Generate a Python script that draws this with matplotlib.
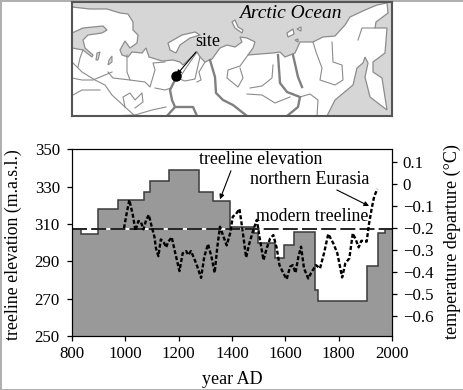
'''
    Treeline elevation against northern Eurasia temperature departure,
    with a small locator map above.  Values read off the picture by eye.
'''

import matplotlib
matplotlib.use('Agg')
import matplotlib.pyplot as plt
from matplotlib.patches import Polygon

plt.rcParams['font.family'] = ['Liberation Serif', 'DejaVu Serif']

# Treeline steps: edges in years, one elevation per interval
step_edges = [800, 835, 897, 972, 1070, 1092, 1162, 1275, 1328, 1392, 1482,
              1496, 1561, 1596, 1632, 1711, 1722, 1907, 1946, 1974, 2000]
step_elev = [307.5, 304.5, 318, 323, 327, 333, 339, 327.4, 322.4, 308.6, 305,
             300, 292, 299, 305.8, 274.7, 269, 287.7, 305, 307.5]

modern_treeline = 307.5

temp_years = [995, 1005, 1015, 1028, 1038, 1049, 1058, 1068, 1078, 1088, 1099,
              1109, 1115, 1124, 1133, 1143, 1153, 1161, 1174, 1186, 1203, 1215,
              1228, 1236, 1246, 1258, 1270, 1284, 1296, 1310, 1323, 1335, 1345,
              1355, 1368, 1380, 1393, 1403, 1415, 1428, 1438, 1453, 1465, 1480,
              1493, 1503, 1518, 1530, 1543, 1555, 1568, 1578, 1593, 1605, 1618,
              1628, 1638, 1649, 1659, 1670, 1686, 1699, 1715, 1730, 1745, 1761,
              1780, 1795, 1813, 1825, 1840, 1853, 1865, 1875, 1885, 1905, 1914,
              1924, 1933, 1945]
temp_dep = [-0.202, -0.134, -0.073, -0.141, -0.213, -0.169, -0.172, -0.207,
            -0.164, -0.141, -0.195, -0.240, -0.294, -0.329, -0.253, -0.263,
            -0.289, -0.263, -0.243, -0.309, -0.397, -0.316, -0.306, -0.324,
            -0.306, -0.339, -0.377, -0.428, -0.332, -0.274, -0.332, -0.405,
            -0.286, -0.195, -0.240, -0.280, -0.225, -0.149, -0.137, -0.114,
            -0.198, -0.335, -0.271, -0.210, -0.164, -0.240, -0.347, -0.294,
            -0.248, -0.233, -0.294, -0.370, -0.408, -0.434, -0.377, -0.370,
            -0.405, -0.332, -0.286, -0.385, -0.431, -0.400, -0.370, -0.385,
            -0.316, -0.228, -0.271, -0.316, -0.426, -0.362, -0.339, -0.225,
            -0.256, -0.289, -0.259, -0.263, -0.180, -0.111, -0.058, -0.023]

year_ticks = [800, 1000, 1200, 1400, 1600, 1800, 2000]
elev_ticks = [250, 270, 290, 310, 330, 350]
temp_ticks = [0.1, 0, -0.1, -0.2, -0.3, -0.4, -0.5, -0.6]
temp_labels = ['0.1', '0', '\u22120.1', '\u22120.2', '\u22120.3', '\u22120.4',
               '\u22120.5', '\u22120.6']

# Map outlines, in picture pixels
land = [(72, 116), (72, 7), (90, 9), (107, 9), (120, 13), (128, 14), (133, 22),
        (133, 30), (138, 35), (137, 43), (130, 48), (125, 41), (120, 50),
        (122, 55), (128, 57), (132, 52), (142, 53), (146, 48), (149, 57),
        (162, 61), (173, 60), (180, 62), (183, 65), (197, 52), (200, 57),
        (205, 62), (212, 59), (220, 48), (227, 45), (235, 47), (242, 42),
        (240, 37), (247, 38), (255, 42), (253, 48), (248, 55), (260, 54),
        (273, 53), (280, 52), (285, 57), (295, 53), (300, 42), (313, 42),
        (323, 37), (335, 36), (345, 25), (350, 17), (365, 10), (377, 5),
        (387, 3), (388, 13), (376, 22), (375, 28), (387, 28), (385, 53),
        (373, 62), (373, 72), (382, 78), (387, 110), (370, 97), (365, 77),
        (368, 63), (365, 57), (363, 63), (357, 68), (353, 85), (335, 100),
        (327, 116)]
baltic = [(72, 33), (83, 28), (103, 26), (107, 30), (102, 33), (88, 35),
          (83, 40), (85, 48), (93, 55), (92, 57), (83, 50), (72, 48)]
novaya = [(168, 43), (182, 35), (195, 32), (200, 35), (190, 38), (180, 45),
          (176, 53), (170, 50)]
islands = [[(232, 22), (235, 20), (238, 27), (243, 30), (242, 33), (235, 28)],
           [(287, 33), (293, 29), (294, 34), (288, 37)],
           [(297, 29), (301, 27), (301, 31)],
           [(295, 40), (298, 39), (298, 42)]]
lakes = [[(97, 53), (100, 52), (98, 60), (96, 60)],
         [(109, 60), (112, 56), (112, 62), (108, 65)]]
big_rivers = [[(175, 80), (170, 90), (172, 100), (175, 107), (167, 116)],
              [(175, 107), (193, 107), (197, 116)],
              [(210, 60), (215, 77), (216, 93), (223, 100), (233, 105), (247, 116)],
              [(278, 55), (280, 83), (287, 92), (300, 97), (298, 107), (287, 116)],
              [(293, 55), (298, 77), (302, 87)]]
thin_rivers = [[(197, 52), (186, 68), (178, 80)],
               [(200, 57), (197, 70), (195, 79), (185, 81), (177, 78)],
               [(205, 62), (199, 72), (201, 80), (197, 82)],
               [(248, 55), (240, 66), (228, 70), (227, 78), (238, 87), (243, 78), (240, 68)],
               [(250, 88), (262, 86), (272, 78), (273, 65)],
               [(247, 94), (262, 95), (275, 103), (290, 97)],
               [(300, 97), (310, 94), (318, 100), (317, 116)],
               [(313, 42), (316, 52), (322, 68), (320, 80), (335, 85), (343, 80), (342, 65), (333, 62), (332, 42)],
               [(358, 40), (362, 28), (375, 28)],
               [(72, 62), (82, 72), (95, 80), (105, 85), (112, 95), (125, 107), (135, 116)],
               [(72, 78), (82, 80), (93, 80), (105, 75), (112, 72)],
               [(73, 95), (82, 90), (100, 90)],
               [(127, 55), (127, 72), (130, 80), (113, 78), (108, 72)],
               [(130, 80), (145, 82), (150, 87), (155, 70), (153, 63), (165, 62)],
               [(125, 107), (123, 97), (130, 93), (135, 100), (142, 93), (143, 102), (135, 108)],
               [(155, 88), (165, 90), (171, 88)],
               [(110, 116), (135, 115), (152, 110), (166, 107)],
               [(83, 50), (80, 58), (78, 67)]]


def draw_map(fig):
    ''' The locator map is drawn in picture pixels, frame and all '''
    ax = fig.add_axes([72 / 464, 1 - 116 / 390, 320 / 464, 114.5 / 390])
    ax.set_xlim(72, 392)
    ax.set_ylim(116, 1.5)
    ax.set_xticks([])
    ax.set_yticks([])
    ax.set_facecolor('#d6d6d6')
    for spine in ax.spines.values():
        spine.set_color('#555555')
        spine.set_linewidth(1.5)
    coast = '#8c8c8c'
    ax.add_patch(Polygon(land, facecolor='white', edgecolor=coast, lw=0.9))
    ax.add_patch(Polygon(baltic, facecolor='#d6d6d6', edgecolor=coast, lw=0.9))
    for shape in [novaya] + islands:
        ax.add_patch(Polygon(shape, facecolor='white', edgecolor=coast, lw=0.9))
    for shape in lakes:
        ax.add_patch(Polygon(shape, facecolor='#d6d6d6', edgecolor=coast, lw=0.8))
    for river in thin_rivers:
        ax.plot(*zip(*river), color=coast, lw=0.8)
    for river in big_rivers:
        ax.plot(*zip(*river), color='#808080', lw=1.7)
    ax.plot([175.5], [76], 'o', color='black', ms=6.5, zorder=5)
    ax.annotate('', xy=(176.5, 75), xytext=(196, 52), zorder=6,
                arrowprops=dict(arrowstyle='-|>', color='black', lw=0.8,
                                mutation_scale=7, shrinkA=0, shrinkB=0))
    ax.text(208, 42, 'site', ha='center', va='center', fontsize=13)
    ax.text(290.5, 13, 'Arctic Ocean', ha='center', va='center', fontsize=14,
            style='italic')


def draw_chart(fig):
    ''' Stepped treeline on the left axis, temperature on the right one '''
    ax = fig.add_axes([72 / 464, 1 - 336 / 390, 320 / 464, 186.5 / 390])
    ax.set_xlim(800, 2000)
    ax.set_ylim(250, 350)
    ax.stairs(step_elev, step_edges, baseline=250, fill=True, color='#999999')
    ax.stairs(step_elev, step_edges, baseline=None, color='#3a3a3a', lw=1.1)
    ax.plot([800, 2000], [modern_treeline] * 2, color='white', lw=1.3)
    ax.plot([800, 2000], [modern_treeline] * 2, color='black', lw=1.2,
            dashes=(9, 2.5))
    ax.set_xticks(year_ticks)
    ax.set_yticks(elev_ticks)
    ax.tick_params(direction='out', length=3.8, width=0.9, labelsize=12.2)
    ax.tick_params(axis='x', pad=3.5)
    ax.tick_params(axis='y', pad=5)
    ax.set_xlabel('year AD', fontsize=13, va='center')
    ax.xaxis.set_label_coords(0.5, -0.233)
    ax.set_ylabel('treeline elevation (m.a.s.l.)', fontsize=12.8, va='center')
    ax.yaxis.set_label_coords(-0.184, 0.488)

    ax2 = ax.twinx()
    ax2.set_ylim(-0.693, 0.157)
    ax2.plot(temp_years, temp_dep, color='black', lw=1.7, dashes=(1.7, 0.9))
    ax2.set_yticks(temp_ticks)
    ax2.set_yticklabels(temp_labels)
    ax2.tick_params(direction='out', length=3.8, width=0.9, labelsize=12.2, pad=4)
    ax2.set_ylabel('temperature departure (\u00b0C)', fontsize=13, va='center')
    ax2.yaxis.set_label_coords(1.1875, 0.504)

    ax.text(1509, 344.5, 'treeline elevation', ha='center', va='center',
            fontsize=12.8)
    ax.text(1692, 334, 'northern Eurasia', ha='center', va='center',
            fontsize=13)
    ax.text(1702, 314.3, 'modern treeline', ha='center', va='center',
            fontsize=12.8)
    ax.annotate('', xy=(1355, 323.3), xytext=(1396, 338.6),
                arrowprops=dict(arrowstyle='-|>', color='black', lw=0.8,
                                mutation_scale=7, shrinkA=0, shrinkB=0))
    ax.annotate('', xy=(1914, 319.7), xytext=(1793, 328.3),
                arrowprops=dict(arrowstyle='-|>', color='black', lw=0.8,
                                mutation_scale=7, shrinkA=0, shrinkB=0))


if __name__ == '__main__':
    fig = plt.figure(figsize=(4.64, 3.9), dpi=100, edgecolor='#b0b0b0',
                     linewidth=1)
    draw_map(fig)
    draw_chart(fig)
    fig.savefig('out.png', dpi=100)
